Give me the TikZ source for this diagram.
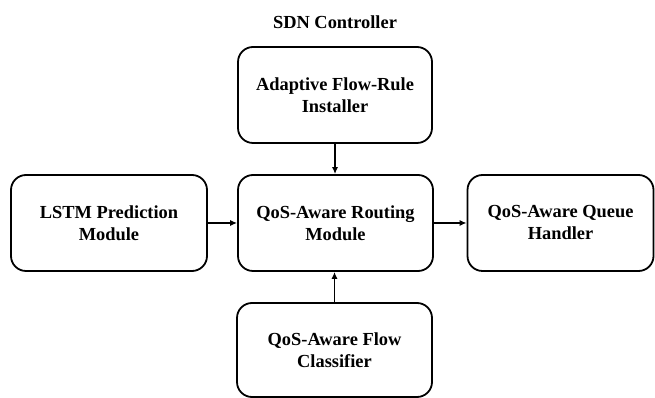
\documentclass[tikz,border=0pt]{standalone}
\usepackage{fontspec}
\setmainfont{Liberation Serif}
\usetikzlibrary{arrows.meta}
\begin{document}
\begin{tikzpicture}[x=1pt,y=1pt,
  modbox/.style={draw=black,line width=1.8pt,rounded corners=15pt,align=center,
    font=\fontsize{18.4}{22}\selectfont\bfseries,inner sep=0pt},
  conn/.style={line width=1.3pt,-{Latex[length=7pt,width=6pt]}}]
\useasboundingbox (0,0) rectangle (655,398);
\node[font=\fontsize{18.4}{22}\selectfont\bfseries] (title) at (335,376) {SDN Controller};
\node[modbox,minimum width=194pt,minimum height=96pt] (top) at (335,303) {Adaptive Flow-Rule\\Installer};
\node[modbox,minimum width=195pt,minimum height=96pt] (mid) at (335.5,175) {QoS-Aware Routing\\Module};
\node[modbox,minimum width=196pt,minimum height=96pt] (left) at (109,175) {LSTM Prediction\\Module};
\node[modbox,minimum width=186pt,minimum height=96pt] (right) at (560.5,175) {QoS-Aware Queue\\Handler};
\node[modbox,minimum width=195pt,minimum height=94pt] (bot) at (334.5,48) {QoS-Aware Flow\\Classifier};
\draw[conn] (top.south) -- (top.south |- mid.north);
\draw[conn] (left.east) -- (left.east -| mid.west);
\draw[conn] (mid.east) -- (mid.east -| right.west);
\draw[conn] (bot.north) -- (bot.north |- mid.south);
\end{tikzpicture}
\end{document}
